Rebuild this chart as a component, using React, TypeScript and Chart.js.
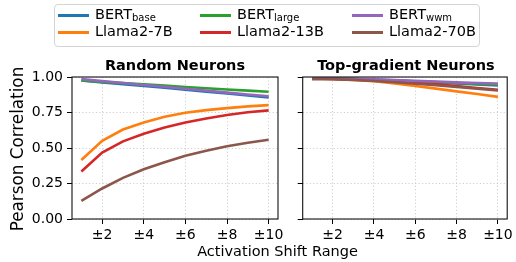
import React, { useEffect, useRef } from "react";
import { Chart, registerables } from "chart.js";

Chart.register(...registerables);

// ---- data ----
const shiftRange = [1, 2, 3, 4, 5, 6, 7, 8, 9, 10];
const xTickValues = [2, 4, 6, 8, 10];
const yTickValues = [0, 0.25, 0.5, 0.75, 1.0];

const seriesNames = ["BERT_base", "Llama2-7B", "BERT_large", "Llama2-13B", "BERT_wwm", "Llama2-70B"];
const seriesColors = ["#1f77b4", "#ff7f0e", "#2ca02c", "#d62728", "#9467bd", "#8c564b"];

// Random Neurons
const randomBertBase = [0.975, 0.962, 0.95, 0.937, 0.924, 0.91, 0.897, 0.884, 0.87, 0.856];
const randomLlama7 = [0.415, 0.55, 0.63, 0.68, 0.72, 0.748, 0.767, 0.781, 0.793, 0.802];
const randomBertLarge = [0.975, 0.966, 0.957, 0.948, 0.939, 0.93, 0.921, 0.912, 0.904, 0.896];
const randomLlama13 = [0.335, 0.468, 0.547, 0.6, 0.645, 0.68, 0.708, 0.733, 0.752, 0.765];
const randomBertWwm = [0.985, 0.971, 0.958, 0.944, 0.931, 0.917, 0.904, 0.89, 0.877, 0.864];
const randomLlama70 = [0.127, 0.215, 0.29, 0.35, 0.4, 0.445, 0.48, 0.512, 0.537, 0.558];

// Top-gradient Neurons
const topBertBase = [0.99, 0.988, 0.985, 0.98, 0.975, 0.968, 0.962, 0.955, 0.948, 0.941];
const topLlama7 = [0.99, 0.986, 0.979, 0.97, 0.955, 0.937, 0.918, 0.899, 0.88, 0.86];
const topBertLarge = [0.99, 0.988, 0.985, 0.981, 0.976, 0.97, 0.964, 0.958, 0.951, 0.945];
const topLlama13 = [0.99, 0.987, 0.982, 0.976, 0.968, 0.958, 0.948, 0.936, 0.923, 0.91];
const topBertWwm = [0.99, 0.989, 0.987, 0.983, 0.978, 0.973, 0.968, 0.962, 0.958, 0.953];
const topLlama70 = [0.985, 0.984, 0.98, 0.972, 0.963, 0.953, 0.942, 0.93, 0.918, 0.905];

const randomSeries = [randomBertBase, randomLlama7, randomBertLarge, randomLlama13, randomBertWwm, randomLlama70];
const topSeries = [topBertBase, topLlama7, topBertLarge, topLlama13, topBertWwm, topLlama70];

const FONT = "'DejaVu Sans', sans-serif";

const boxPlugin = {
  id: "boxFrame",
  afterDraw(chart: any) {
    const { ctx, chartArea } = chart;
    ctx.save();
    ctx.strokeStyle = "#111";
    ctx.lineWidth = 1.1;
    ctx.strokeRect(chartArea.left, chartArea.top, chartArea.right - chartArea.left, chartArea.bottom - chartArea.top);
    ctx.restore();
  },
};

function makeConfig(series: number[][], isLeft: boolean): any {
  const datasets = series.map((vals, i) => ({
    label: seriesNames[i],
    data: shiftRange.map((x, j) => ({ x, y: vals[j] })),
    borderColor: seriesColors[i],
    backgroundColor: seriesColors[i],
    borderWidth: 2.6,
    pointRadius: 0,
    tension: 0,
    order: series.length - i,
  }));
  return {
    type: "line",
    data: { datasets },
    plugins: [boxPlugin],
    options: {
      responsive: false,
      animation: false,
      events: [],
      layout: {
        padding: isLeft ? { left: 0, top: 77, right: 238, bottom: 0 } : { left: 290.7, top: 77, right: 7, bottom: 0 },
      },
      plugins: { legend: { display: false }, tooltip: { enabled: false }, title: { display: false } },
      scales: {
        x: {
          type: "linear",
          min: 0.55,
          max: 10.45,
          afterBuildTicks: (s: any) => {
            s.ticks = xTickValues.map((v) => ({ value: v }));
          },
          afterFit: (s: any) => {
            s.height = 43;
          },
          ticks: {
            color: "#000",
            font: { family: FONT, size: 14 },
            padding: 3,
            maxRotation: 0,
            autoSkip: false,
            callback: (v: any) => "±" + v,
          },
          grid: {
            color: "#c4c4c4",
            lineWidth: 0.8,
            drawTicks: true,
            tickLength: 5,
            tickColor: "#000",
            tickWidth: 1,
            tickBorderDash: [],
          },
          border: { display: false, dash: [1.2, 2.2] },
        },
        y: {
          type: "linear",
          min: 0,
          max: 1,
          afterBuildTicks: (s: any) => {
            s.ticks = yTickValues.map((v) => ({ value: v }));
          },
          afterFit: (s: any) => {
            s.width = isLeft ? 72 : 12;
          },
          ticks: {
            display: isLeft,
            color: "#000",
            font: { family: FONT, size: 14 },
            padding: 4,
            callback: (v: any) => Number(v).toFixed(2),
          },
          grid: {
            color: "#c4c4c4",
            lineWidth: 0.8,
            drawTicks: true,
            tickLength: 5,
            tickColor: "#000",
            tickWidth: 1,
            tickBorderDash: [],
          },
          border: { display: false, dash: [1.2, 2.2] },
        },
      },
    },
  };
}

function Sub({ children }: { children: React.ReactNode }) {
  return <span style={{ fontSize: "10px", verticalAlign: "-2px" }}>{children}</span>;
}

const legendItems = [
  { col: 0, row: 0, color: seriesColors[0], label: <>BERT<Sub>base</Sub></> },
  { col: 0, row: 1, color: seriesColors[1], label: <>Llama2-7B</> },
  { col: 1, row: 0, color: seriesColors[2], label: <>BERT<Sub>large</Sub></> },
  { col: 1, row: 1, color: seriesColors[3], label: <>Llama2-13B</> },
  { col: 2, row: 0, color: seriesColors[4], label: <>BERT<Sub>wwm</Sub></> },
  { col: 2, row: 1, color: seriesColors[5], label: <>Llama2-70B</> },
];
const legendColX = [58, 200, 352];
const legendRowY = [15, 32.5];

export default function App() {
  const leftRef = useRef<HTMLCanvasElement>(null);
  const rightRef = useRef<HTMLCanvasElement>(null);

  useEffect(() => {
    const c1 = new Chart(leftRef.current as HTMLCanvasElement, makeConfig(randomSeries, true));
    const c2 = new Chart(rightRef.current as HTMLCanvasElement, makeConfig(topSeries, false));
    return () => {
      c1.destroy();
      c2.destroy();
    };
  }, []);

  const text: React.CSSProperties = { position: "absolute", fontFamily: FONT, color: "#000", whiteSpace: "nowrap" };

  return (
    <div style={{ position: "fixed", left: 0, top: 0, width: 516, height: 262, background: "#fff", overflow: "hidden" }}>
      <canvas ref={leftRef} width={516} height={262} style={{ position: "absolute", left: 0, top: 0 }} />
      <canvas ref={rightRef} width={516} height={262} style={{ position: "absolute", left: 0, top: 0 }} />

      {/* legend */}
      <div
        style={{
          position: "absolute",
          left: 53.5,
          top: 4,
          width: 426,
          height: 43,
          border: "1px solid #d4d4d4",
          borderRadius: 4,
          boxSizing: "border-box",
          background: "rgba(255,255,255,0.8)",
        }}
      />
      {legendItems.map((it, i) => (
        <React.Fragment key={i}>
          <div
            style={{
              position: "absolute",
              left: legendColX[it.col],
              top: Math.round(legendRowY[it.row] - 1.5),
              width: 31,
              height: 3,
              background: it.color,
            }}
          />
          <div style={{ ...text, left: legendColX[it.col] + 37, top: legendRowY[it.row] - 9.5, fontSize: 14.5, lineHeight: "17px" }}>
            {it.label}
          </div>
        </React.Fragment>
      ))}

      {/* subplot titles */}
      <div style={{ ...text, left: 75, width: 200, top: 56, textAlign: "center", fontWeight: "bold", fontSize: 14.5, lineHeight: "18px" }}>
        Random Neurons
      </div>
      <div style={{ ...text, left: 305.9, width: 200, top: 56, textAlign: "center", fontWeight: "bold", fontSize: 14.5, lineHeight: "18px" }}>
        Top-gradient Neurons
      </div>

      {/* axis titles */}
      <div style={{ ...text, left: 177.5, width: 200, top: 242, textAlign: "center", fontSize: 14.5, lineHeight: "18px" }}>
        Activation Shift Range
      </div>
      <div
        style={{
          ...text,
          left: 16.5 - 100,
          top: 149 - 10,
          width: 200,
          height: 20,
          textAlign: "center",
          fontSize: 16.8,
          lineHeight: "20px",
          transform: "rotate(-90deg)",
        }}
      >
        Pearson Correlation
      </div>
    </div>
  );
}
